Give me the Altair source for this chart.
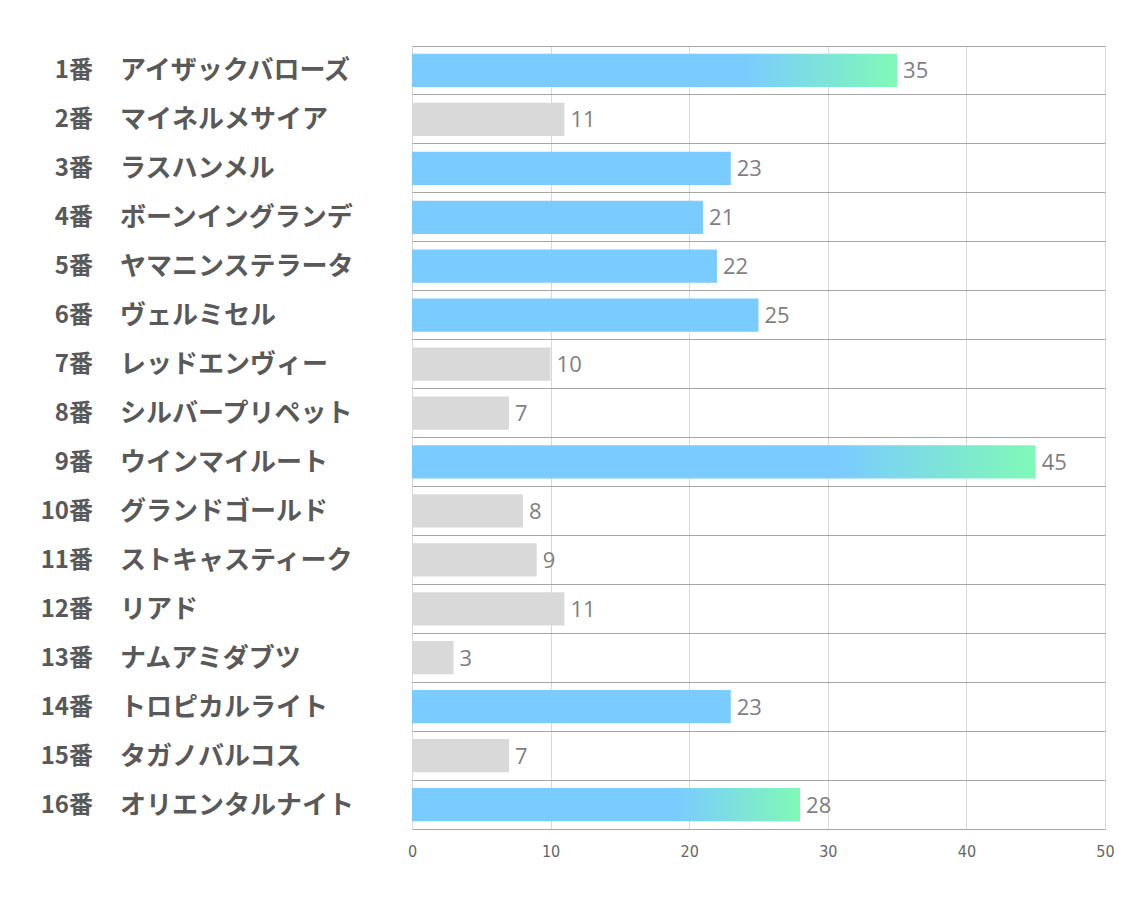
import altair as alt
import pandas as pd

nums = ["1番", "2番", "3番", "4番", "5番", "6番", "7番", "8番",
        "9番", "10番", "11番", "12番", "13番", "14番", "15番", "16番"]
names = ["アイザックバローズ", "マイネルメサイア", "ラスハンメル", "ボーンイングランデ",
         "ヤマニンステラータ", "ヴェルミセル", "レッドエンヴィー", "シルバープリペット",
         "ウインマイルート", "グランドゴールド", "ストキャスティーク", "リアド",
         "ナムアミダブツ", "トロピカルライト", "タガノバルコス", "オリエンタルナイト"]
values = [35, 11, 23, 21, 22, 25, 10, 7, 45, 8, 9, 11, 3, 23, 7, 28]
kinds = ["grad", "gray", "blue", "blue", "blue", "blue", "gray", "gray",
         "grad", "gray", "gray", "gray", "gray", "blue", "gray", "grad"]

df = pd.DataFrame({"num": nums, "name": names, "value": values, "kind": kinds})

BLUE = "#7ACBFF"
GREEN = "#80F9B7"
GRAY = "#D9D9D9"
NARROW = "Liberation Sans Narrow, DejaVu Sans Condensed, Open Sans"

y_enc = alt.Y("num:N", sort=nums,
              scale=alt.Scale(paddingInner=0, paddingOuter=0),
              axis=alt.Axis(title=None, labels=False, ticks=False, domain=False,
                            grid=True, bandPosition=0, gridColor="#A6A6A6",
                            gridWidth=1))
x_enc = alt.X("value:Q", scale=alt.Scale(domain=[0, 50]),
              axis=alt.Axis(title=None, values=[0, 10, 20, 30, 40, 50],
                            ticks=False, domain=True, domainColor="#A6A6A6",
                            gridColor="#D9D9D9", labelFontSize=16,
                            labelColor="#666666", labelPadding=14,
                            labelFlush=False, labelFont=NARROW))

base = alt.Chart(df)

plain = base.transform_filter(alt.datum.kind != "grad").mark_bar(
    height={"band": 0.68}).encode(
    x=x_enc, y=y_enc,
    color=alt.Color("kind:N", scale=alt.Scale(domain=["blue", "gray"], range=[BLUE, GRAY]),
                    legend=None))

grad = base.transform_filter(alt.datum.kind == "grad").mark_bar(
    height={"band": 0.68},
    color=alt.Gradient(gradient="linear", x1=0, x2=1, y1=0, y2=0,
                       stops=[alt.GradientStop(offset=0, color=BLUE),
                              alt.GradientStop(offset=0.68, color=BLUE),
                              alt.GradientStop(offset=1, color=GREEN)])).encode(
    x=x_enc, y=y_enc)

vals = base.mark_text(align="left", baseline="middle", dx=6, dy=1, fontSize=22,
                      color="#7F7F7F", font="Open Sans").encode(
    x="value:Q", y=alt.Y("num:N", sort=nums), text="value:Q")

numtxt = base.mark_text(align="right", baseline="middle", dy=1, fontSize=24,
                        fontWeight="bold", color="#595959",
                        font="Noto Sans CJK JP").encode(
    x=alt.value(-319), y=alt.Y("num:N", sort=nums), text="num:N")

nametxt = base.mark_text(align="left", baseline="middle", dy=1, fontSize=26,
                         fontWeight="bold", color="#595959",
                         font="Noto Sans CJK JP").encode(
    x=alt.value(-292), y=alt.Y("num:N", sort=nums), text="name:N")

chart = alt.layer(plain, grad, vals, numtxt, nametxt).properties(
    width=693, height=783,
    padding={"left": 412, "top": 46, "right": 29, "bottom": 78},
    autosize="none",
    background="white",
).configure_view(stroke=None)

chart.save("out.html", embed_options={"renderer": "svg", "actions": False})
